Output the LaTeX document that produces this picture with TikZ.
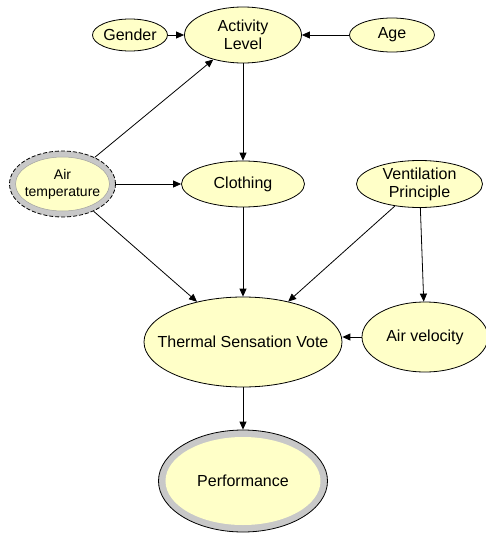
\documentclass[tikz,border=0pt]{standalone}
\usepackage{fontspec}
\setmainfont{Liberation Sans}
\usetikzlibrary{shapes.geometric,positioning,arrows.meta}
\definecolor{nfill}{HTML}{FFFFC8}
\definecolor{band}{HTML}{C8C8C8}
\tikzset{
  var/.style    = { draw, ellipse, line width=0.8pt, fill=nfill, inner xsep=-20pt, inner ysep=0pt,
    align=center, font=\fontsize{16}{18}\selectfont },
  ring/.style   = { draw, ellipse, line width=0.8pt, fill=band, inner sep=0pt },
  ringin/.style = { ellipse, fill=nfill, inner xsep=-20pt, inner ysep=0pt, align=center,
    font=\fontsize{16}{18}\selectfont },
  arr/.style    = { -{Triangle[length=8pt,width=7pt]}, line width=0.8pt }
}

\begin{document}
\begin{tikzpicture}[node distance=10pt,on grid]
  \useasboundingbox (-243pt,35pt) rectangle (243pt,-501pt);
  % top row
  \node[var, minimum width=117pt, minimum height=56pt] (act) {Activity\\Level};
  \node[var, minimum width=75pt, minimum height=32pt, left=113pt of act] (gender) {Gender};
  \node[var, minimum width=85pt, minimum height=34pt, right=149pt of act] (age) {Age};
  % middle row
  \node[var, minimum width=123pt, minimum height=46pt, below=149pt of act] (cloth) {Clothing};
  \node[ring, dashed, dash pattern=on 4pt off 2pt, minimum width=106pt, minimum height=66pt,
    left=180.5pt of cloth] (air) {};
  \node[ringin, draw=gray!75, line width=0.5pt, minimum width=94pt, minimum height=54pt,
    font=\fontsize{14}{17}\selectfont] (airin) at (air) {Air\\temperature};
  \node[var, minimum width=126pt, minimum height=47pt, right=176.5pt of cloth] (vent) {Ventilation\\Principle};
  % lower part
  \node[var, minimum width=198pt, minimum height=90pt, below=158pt of cloth] (tsv) {Thermal Sensation Vote};
  \node[var, minimum width=126pt, minimum height=70pt, above right=5pt and 182pt of tsv] (airvel) {Air velocity};
  \node[ring, minimum width=169pt, minimum height=102pt, below=139pt of tsv] (perf) {};
  \node[ringin, minimum width=155pt, minimum height=88pt] (perfin) at (perf) {Performance};
  % influences
  \draw[arr] (gender) -- (act);
  \draw[arr] (age) -- (act);
  \draw[arr] (air) -- (act);
  \draw[arr] (act) -- (cloth);
  \draw[arr] (air) -- (cloth);
  \draw[arr] (air) -- (tsv);
  \draw[arr] (cloth) -- (tsv);
  \draw[arr] (vent) -- (tsv);
  \draw[arr] (vent) -- (airvel);
  \draw[arr] (airvel.west) -- (airvel.west -| tsv.east);
  \draw[arr] (tsv) -- (perf);
\end{tikzpicture}
\end{document}
